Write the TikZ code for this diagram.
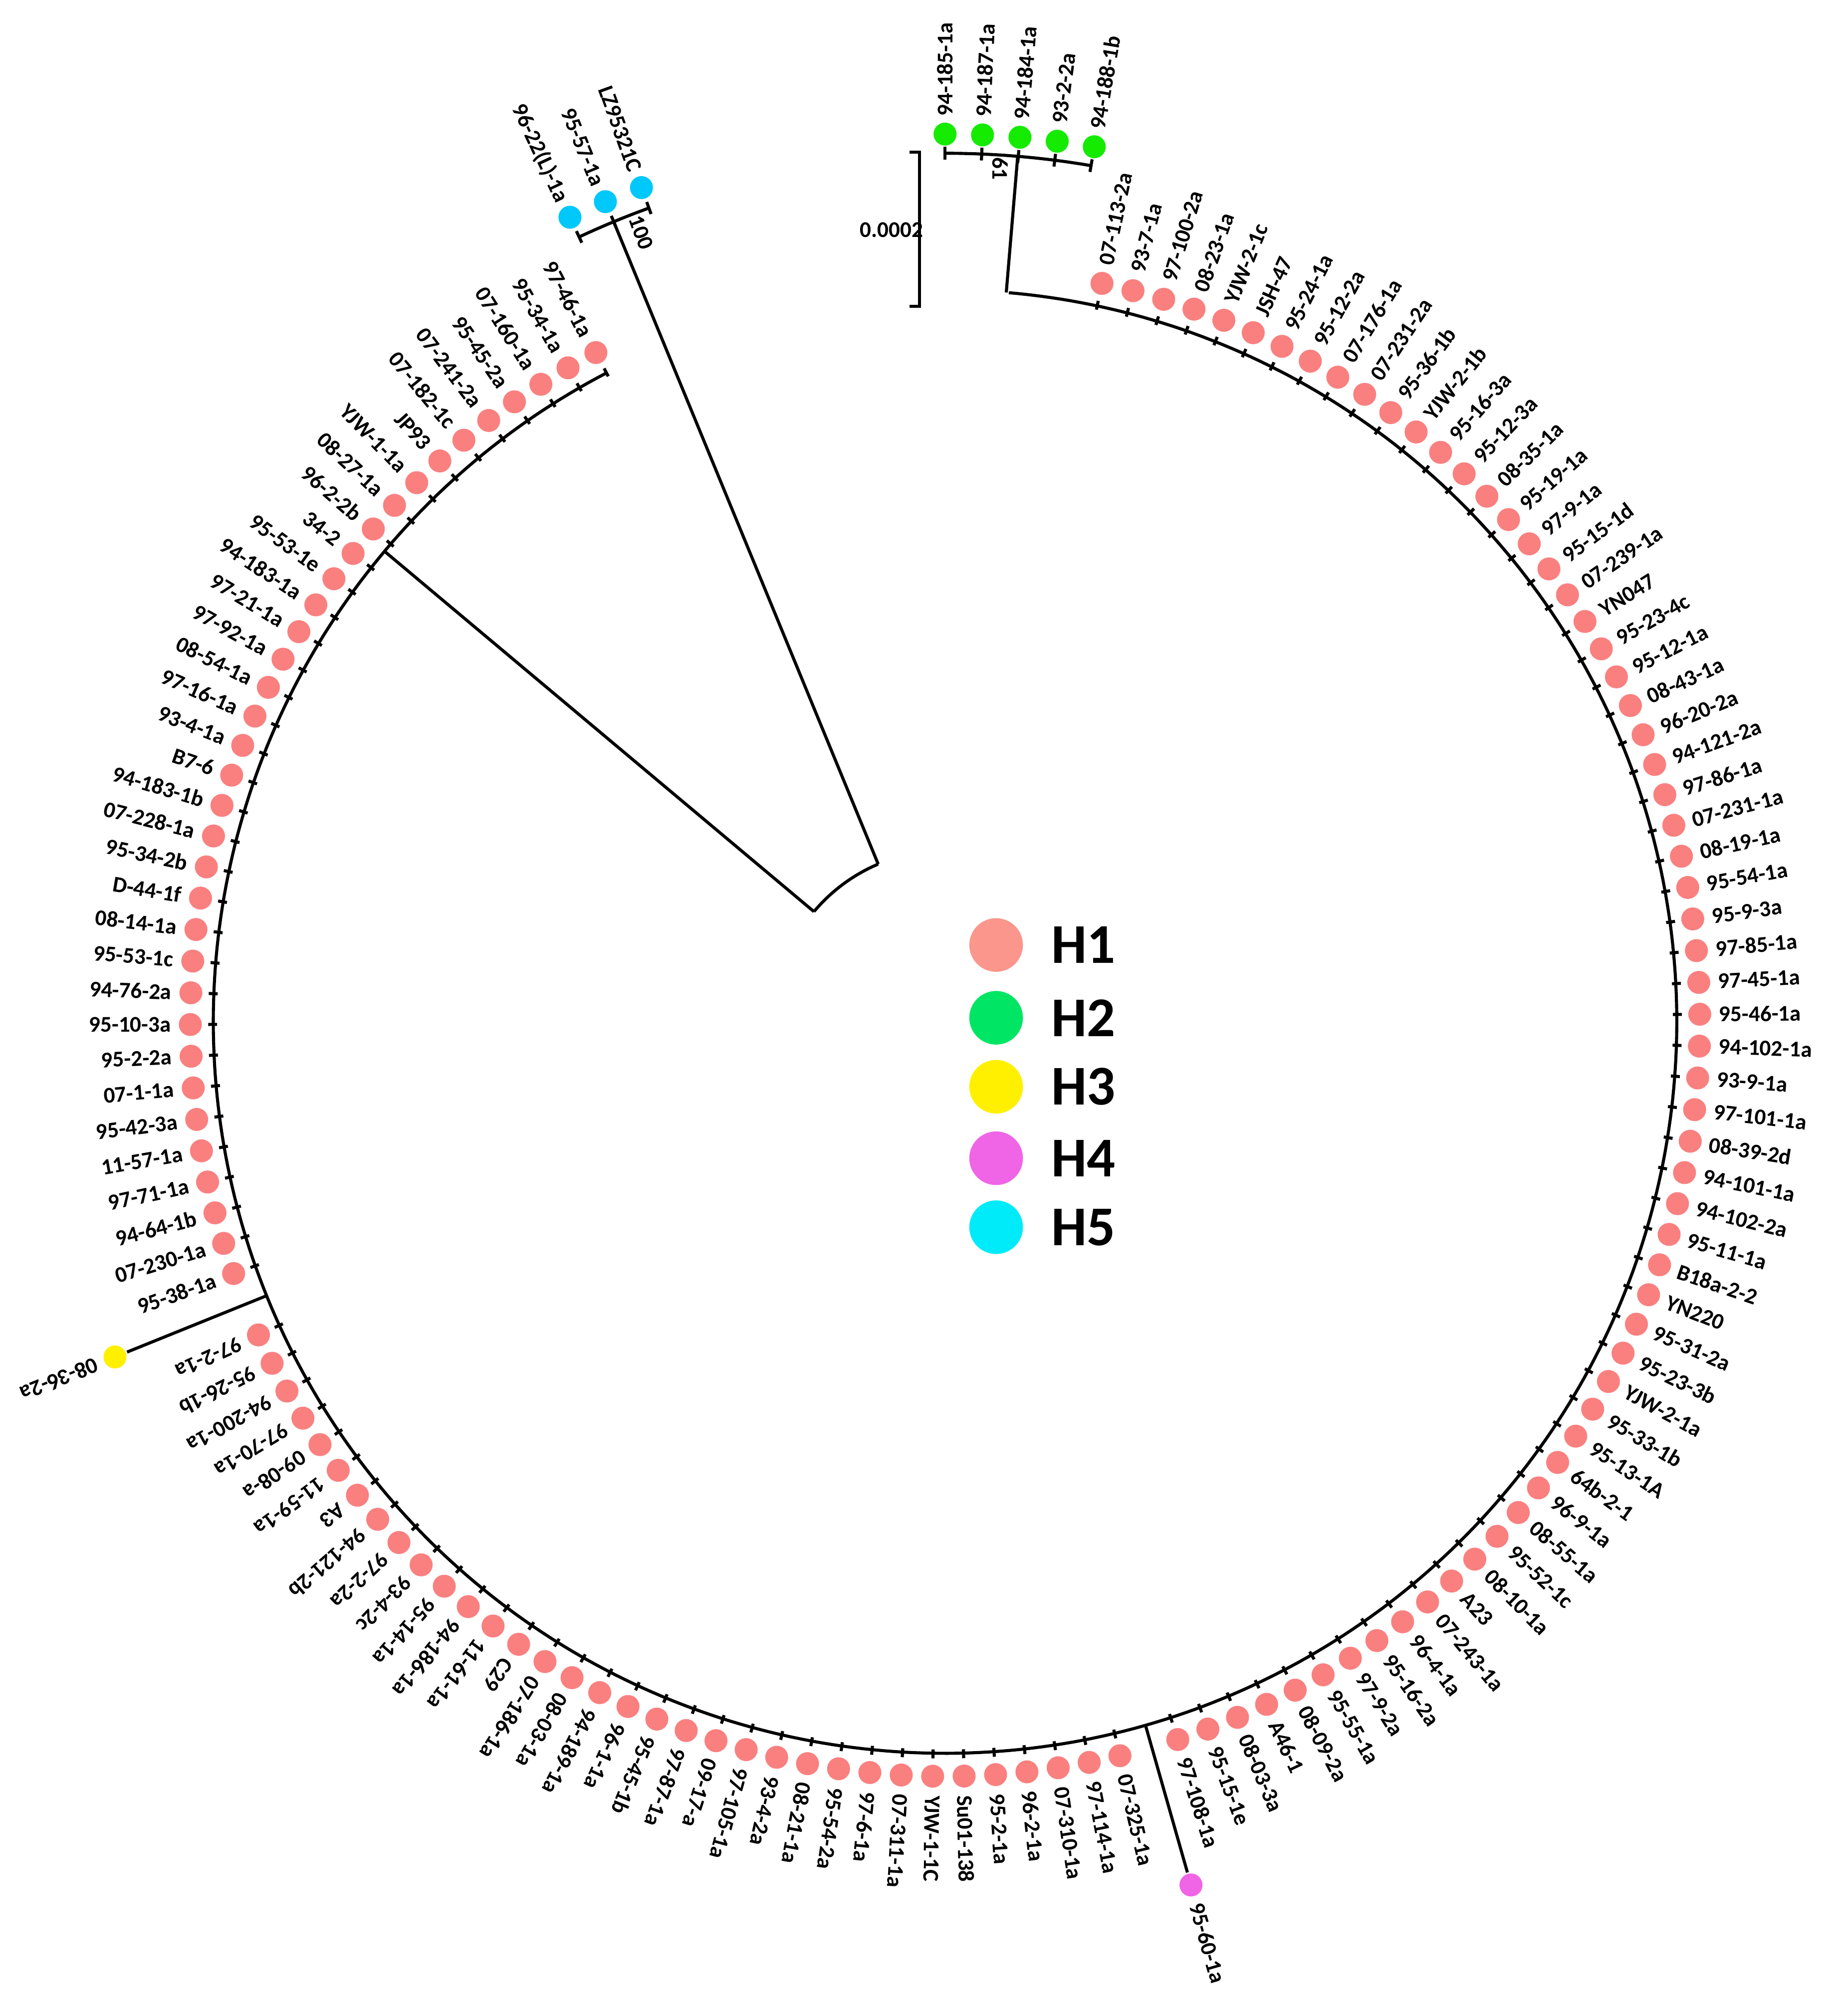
\documentclass[tikz,border=0pt]{standalone}
\usepackage{fontspec}
\setmainfont{Carlito}
\definecolor{hone}{RGB}{250,128,128}
\definecolor{honeL}{RGB}{250,150,140}
\definecolor{htwo}{RGB}{20,235,0}
\definecolor{htwoL}{RGB}{0,230,100}
\definecolor{hthree}{RGB}{255,240,0}
\definecolor{hfour}{RGB}{240,100,230}
\definecolor{hfive}{RGB}{0,200,250}
\definecolor{hfiveL}{RGB}{0,235,250}
\begin{document}
\begin{tikzpicture}[x=0.5pt,y=0.5pt,line width=1.2pt,
  lab/.style={font=\fontsize{8.8}{9}\selectfont\bfseries,inner sep=0pt},
  dot/.style={circle,inner sep=0pt,minimum size=9pt},
  leg/.style={circle,inner sep=0pt,minimum size=21pt},
  legt/.style={font=\fontsize{22}{24}\selectfont\bfseries,anchor=west,inner sep=0pt}]
\useasboundingbox (0,0) rectangle (1440,-1578.7);
\coordinate (c) at (740,-800);
% main arc
\draw plot[domain=117.6:445,samples=400] ({740+573*cos(\x)},{-800+573*sin(\x)});
% root arc and branches
\draw plot[domain=113:140,samples=40] ({740+134*cos(\x)},{-800+134*sin(\x)});
\coordinate (r1) at ([shift={(c)}]140:134);
\coordinate (r2) at ([shift={(c)}]113:134);
\coordinate (n1) at ([shift={(c)}]140:573);
\coordinate (n5) at ([shift={(c)}]112.5:678);
\draw (r1) -- (n1);
\draw (r2) -- (n5);
% H5 clade
\draw plot[domain=110:115,samples=20] ({740+678*cos(\x)},{-800+678*sin(\x)});
\foreach \t [count=\i from 0] in {96-22(L)-1a,95-57-1a,LZ95321C}{
  \pgfmathsetmacro\a{115-\i*2.5}
  \draw ([shift={(c)}]\a:673) -- ([shift={(c)}]\a:683);
  \node[dot,fill=hfive] (e\i) at ([shift={(c)}]\a:695) {};
  \node[lab,anchor=east,rotate=\a+180] at ([shift={(c)}]\a:708) {\t};
}
\node[lab,rotate=-70] at (502,-182) {100};
% H2 clade
\coordinate (n2a) at ([shift={(c)}]85.2:573);
\coordinate (n2b) at ([shift={(c)}]85.2:680);
\draw (n2a) -- (n2b);
\draw plot[domain=80.3:90,samples=30] ({740+680*cos(\x)},{-800+680*sin(\x)});
\foreach \t [count=\i from 0] in {94-185-1a,94-187-1a,94-184-1a,93-2-2a,94-188-1b}{
  \pgfmathsetmacro\a{90-\i*2.42}
  \draw ([shift={(c)}]\a:675) -- ([shift={(c)}]\a:685);
  \node[dot,fill=htwo] (g\i) at ([shift={(c)}]\a:695) {};
  \node[lab,anchor=west,rotate=\a] at ([shift={(c)}]\a:708) {\t};
}
\node[lab,rotate=-90] at (783,-132) {61};
% H1 group 1
\foreach \t [count=\i from 0] in {07-113-2a,93-7-1a,97-100-2a,08-23-1a,YJW-2-1c,JSH-47,95-24-1a,95-12-2a,07-176-1a,07-231-2a,95-36-1b,YJW-2-1b,95-16-3a,95-12-3a,08-35-1a,95-19-1a,97-9-1a,95-15-1d,07-239-1a,YN047,95-23-4c,95-12-1a,08-43-1a,96-20-2a,94-121-2a,97-86-1a,07-231-1a,08-19-1a,95-54-1a,95-9-3a,97-85-1a,97-45-1a,95-46-1a,94-102-1a,93-9-1a,97-101-1a,08-39-2d,94-101-1a,94-102-2a,95-11-1a,B18a-2-2,YN220,95-31-2a,95-23-3b,YJW-2-1a,95-33-1b,95-13-1A,64b-2-1,96-9-1a,08-55-1a,95-52-1c,08-10-1a,A23,07-243-1a,96-4-1a,95-16-2a,97-9-2a,95-55-1a,08-09-2a,A46-1,08-03-3a,95-15-1e,97-108-1a}{
  \pgfmathsetmacro\a{78-\i*2.42}
  \draw ([shift={(c)}]\a:570) -- ([shift={(c)}]\a:577);
  \node[dot,fill=hone] (a\i) at ([shift={(c)}]\a:591) {};
  \node[lab,anchor=west,rotate=\a] at ([shift={(c)}]\a:605) {\t};
}
% H4
\coordinate (m0) at ([shift={(c)}]-74.1:573);
\node[dot,fill=hfour] (m1) at ([shift={(c)}]-74.1:703) {};
\draw (m0) -- (m1);
\node[lab,anchor=west,rotate=-74.1] at ([shift={(c)}]-74.1:717) {95-60-1a};
% H1 group 2
\foreach \t [count=\i from 0] in {07-325-1a,97-114-1a,07-310-1a,96-2-1a,95-2-1a,Su01-138,YJW-1-1C,07-311-1a,97-6-1a,95-54-2a,08-21-1a,93-4-2a,97-105-1a,09-17-a,97-87-1a,95-45-1b,96-1-1a,94-189-1a,08-03-1a,07-186-1a,C29,11-61-1a,94-186-1a,95-14-1a,93-4-2c,97-2-2a,94-121-2b,A3,11-59-1a,09-08-a,97-70-1a,94-200-1a,95-26-1b,97-2-1a}{
  \pgfmathsetmacro\a{-76.6-\i*2.39}
  \draw ([shift={(c)}]\a:570) -- ([shift={(c)}]\a:577);
  \node[dot,fill=hone] (b\i) at ([shift={(c)}]\a:591) {};
  \node[lab,anchor=west,rotate=\a] at ([shift={(c)}]\a:605) {\t};
}
% H3
\coordinate (y0) at ([shift={(c)}]202:573);
\node[dot,fill=hthree] (y1) at ([shift={(c)}]202:701) {};
\draw (y0) -- (y1);
\node[lab,anchor=west,rotate=202] at ([shift={(c)}]202:715) {08-36-2a};
% H1 group 3
\foreach \t [count=\i from 0] in {95-38-1a,07-230-1a,94-64-1b,97-71-1a,11-57-1a,95-42-3a,07-1-1a,95-2-2a,95-10-3a,94-76-2a,95-53-1c,08-14-1a,D-44-1f,95-34-2b,07-228-1a,94-183-1b,B7-6,93-4-1a,97-16-1a,08-54-1a,97-92-1a,97-21-1a,94-183-1a,95-53-1e,34-2,96-2-2b,08-27-1a,YJW-1-1a,JP93,07-182-1c,07-241-2a,95-45-2a,07-160-1a,95-34-1a,97-46-1a}{
  \pgfmathsetmacro\a{199.5-\i*2.41}
  \draw ([shift={(c)}]\a:570) -- ([shift={(c)}]\a:577);
  \node[dot,fill=hone] (f\i) at ([shift={(c)}]\a:591) {};
  \node[lab,anchor=east,rotate=\a+180] at ([shift={(c)}]\a:605) {\t};
}
% scale bar
\coordinate (s1) at (720,-119);
\coordinate (s2) at (720,-240);
\draw (712,-119) -- (s1) -- (s2) -- (712,-240);
\node[lab,anchor=east] at (724,-180) {0.0002};
% legend
\node[leg,fill=honeL] (l1) at (780,-740) {};
\node[legt] at (822,-740) {H1};
\node[leg,fill=htwoL] (l2) at (780,-797) {};
\node[legt] at (822,-797) {H2};
\node[leg,fill=hthree] (l3) at (780,-851) {};
\node[legt] at (822,-851) {H3};
\node[leg,fill=hfour] (l4) at (780,-907) {};
\node[legt] at (822,-907) {H4};
\node[leg,fill=hfiveL] (l5) at (780,-961) {};
\node[legt] at (822,-961) {H5};
\end{tikzpicture}
\end{document}
